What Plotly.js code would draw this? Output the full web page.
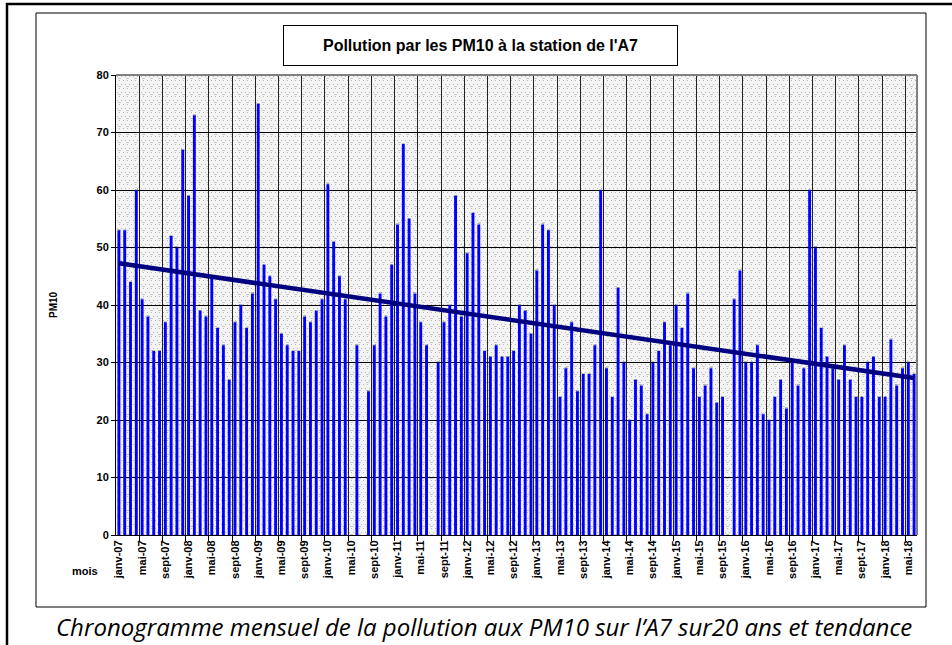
<!DOCTYPE html>
<html>
<head>
<meta charset="utf-8">
<script src="https://cdn.plot.ly/plotly-3.0.1.min.js"></script>
<style>
html,body{margin:0;padding:0;background:#fff;}
#chart{width:952px;height:645px;}
</style>
</head>
<body>
<div id="chart"></div>
<script>
// ---- data ----
const monthNames = ["janv","févr","mars","avr","mai","juin","juil","août","sept","oct","nov","déc"];
const startYear = 2007;
const pm10 = [
  53,53,44,60,41,38,32,32,37,52,50,67,   // 2007
  59,73,39,38,45,36,33,27,37,40,36,42,   // 2008
  75,47,45,41,35,33,32,32,38,37,39,41,   // 2009
  61,51,45,41,null,33,null,25,33,42,38,47, // 2010
  54,68,55,42,37,33,null,30,37,40,59,38, // 2011
  49,56,54,32,31,33,31,31,32,40,39,35,   // 2012
  46,54,53,40,24,29,37,25,28,28,33,60,   // 2013
  29,24,43,30,20,27,26,21,30,32,37,33,   // 2014
  40,36,42,29,24,26,29,23,24,null,41,46, // 2015
  30,30,33,21,20,24,27,22,30,26,29,60,   // 2016
  50,36,31,29,27,33,27,24,24,30,31,24,   // 2017
  24,34,26,29,30,28                      // 2018
];
const months = pm10.map((v,i)=> monthNames[i%12] + "-" + String((startYear + Math.floor(i/12)) % 100).padStart(2,"0"));
const monthIndex = months.map((m,i)=>i);
const labelStep = 4;
const tickIdx = monthIndex.filter(i=> i % labelStep === 0);
const tickLabels = tickIdx.map(i=>months[i]);
const boundaryIdx = tickIdx.filter(i=>i>0).map(i=>i-0.5);

// linear trend (least squares on month index, blanks excluded)
let n=0,sx=0,sy=0,sxx=0,sxy=0;
pm10.forEach((v,i)=>{ if(v!==null){ n++; sx+=i; sy+=v; sxx+=i*i; sxy+=i*v; }});
const slope=(n*sxy-sx*sy)/(n*sxx-sx*sx);
const inter=(sy-slope*sx)/n;
const lastI=months.length-1;
const trendX=[0, lastI];
const trendY=[inter, inter+slope*lastI];

// ---- layout helpers (pixel -> paper) ----
const L=116, R=917, T=75, B=535;
const px=x=>(x-L)/(R-L);
const py=y=>(B-y)/(B-T);

const font="Arial, 'Liberation Sans', sans-serif";

// dotted background texture
const svgPat = '<svg xmlns="http://www.w3.org/2000/svg" width="801" height="460">'+
 '<defs><pattern id="p" width="8" height="8" patternUnits="userSpaceOnUse">'+
 '<rect width="8" height="8" fill="#f4f4f4"/>'+
 '<rect x="1" y="1" width="1" height="1" fill="#b8b8b8"/>'+
 '<rect x="5" y="1" width="1" height="1" fill="#b8b8b8"/>'+
 '<rect x="3" y="5" width="1" height="1" fill="#b8b8b8"/>'+
 '<rect x="7" y="5" width="1" height="1" fill="#b8b8b8"/>'+
 '<rect x="2" y="3" width="3" height="1" fill="#c8c8c8"/>'+
 '</pattern></defs><rect width="801" height="460" fill="url(#p)"/></svg>';
const bgSrc = "data:image/svg+xml;base64," + btoa(svgPat);

const traces=[
  {type:"bar", x:monthIndex, y:pm10, text:months, marker:{color:"#0000ff", line:{width:0}}, hoverinfo:"text+y", showlegend:false},
  {type:"scatter", mode:"lines", x:trendX, y:trendY, line:{color:"#000080", width:4.5}, showlegend:false, hoverinfo:"skip"}
];

const layout={
  width:952, height:645,
  margin:{l:L, r:952-R, t:T, b:645-B, pad:0},
  paper_bgcolor:"#ffffff",
  plot_bgcolor:"#e9e9e9",
  bargap:0.5,
  font:{family:font, size:11, color:"#000"},
  images:[{source:bgSrc, xref:"paper", yref:"paper", x:0, y:1, sizex:1, sizey:1, sizing:"stretch", layer:"below", xanchor:"left", yanchor:"top"}],
  xaxis:{
    type:"linear",
    range:[-0.5, months.length-0.5],
    tickmode:"array", tickvals:tickIdx, ticktext:tickLabels,
    tickangle:-90,
    tickfont:{family:font, size:11, color:"#000", weight:"bold"},
    ticks:"", showgrid:false,
    minor:{tickmode:"array", tickvals:boundaryIdx, ticks:"outside", ticklen:5, tickcolor:"#000", tickwidth:1,
           showgrid:true, gridcolor:"#222", gridwidth:1},
    showline:true, linecolor:"#000", linewidth:1,
    zeroline:false, fixedrange:true
  },
  yaxis:{
    range:[0,80], dtick:10, tick0:0,
    tickfont:{family:font, size:11, color:"#000", weight:"bold"},
    ticks:"outside", ticklen:4, tickcolor:"#000",
    showgrid:true, gridcolor:"#000", gridwidth:1,
    showline:true, linecolor:"#000", linewidth:1,
    zeroline:false, fixedrange:true
  },
  shapes:[
    {type:"line", xref:"paper", yref:"paper", x0:0, x1:1, y0:1, y1:1, line:{color:"#808080", width:2}},
    {type:"line", xref:"paper", yref:"paper", x0:1, x1:1, y0:0, y1:1, line:{color:"#808080", width:2}},
    {type:"rect", xref:"paper", yref:"paper", x0:px(36), x1:px(926), y0:py(13), y1:py(607), line:{color:"#000", width:1}},
    {type:"line", xref:"paper", yref:"paper", x0:px(6), x1:px(952), y0:py(4), y1:py(4), line:{color:"#000", width:2.5}},
    {type:"line", xref:"paper", yref:"paper", x0:px(7), x1:px(7), y0:py(3), y1:py(645), line:{color:"#000", width:2.5}}
  ],
  annotations:[
    {text:"Pollution par les PM10 à la station de l'A7", xref:"paper", yref:"paper",
     x:px(480.5), y:py(45.5), xanchor:"center", yanchor:"middle", showarrow:false,
     font:{family:font, size:16, color:"#000", weight:"bold"},
     bordercolor:"#000", borderwidth:1, bgcolor:"#fff", width:391, height:37},
    {text:"PM10", xref:"paper", yref:"paper", x:px(53), y:py(305), textangle:-90,
     xanchor:"center", yanchor:"middle", showarrow:false,
     font:{family:font, size:10, color:"#000", weight:"bold"}},
    {text:"mois", xref:"paper", yref:"paper", x:px(85), y:py(571),
     xanchor:"center", yanchor:"middle", showarrow:false,
     font:{family:font, size:11, color:"#000", weight:"bold"}},
    {text:"Chronogramme mensuel de la pollution aux PM10 sur l’A7 sur20 ans et tendance", xref:"paper", yref:"paper",
     x:px(483.5), y:py(626), xanchor:"center", yanchor:"middle", showarrow:false,
     font:{family:"'Open Sans', 'Noto Sans', sans-serif", size:24, color:"#000", style:"italic"}}
  ]
};

Plotly.newPlot("chart", traces, layout, {displayModeBar:false, staticPlot:true});
</script>
</body>
</html>
